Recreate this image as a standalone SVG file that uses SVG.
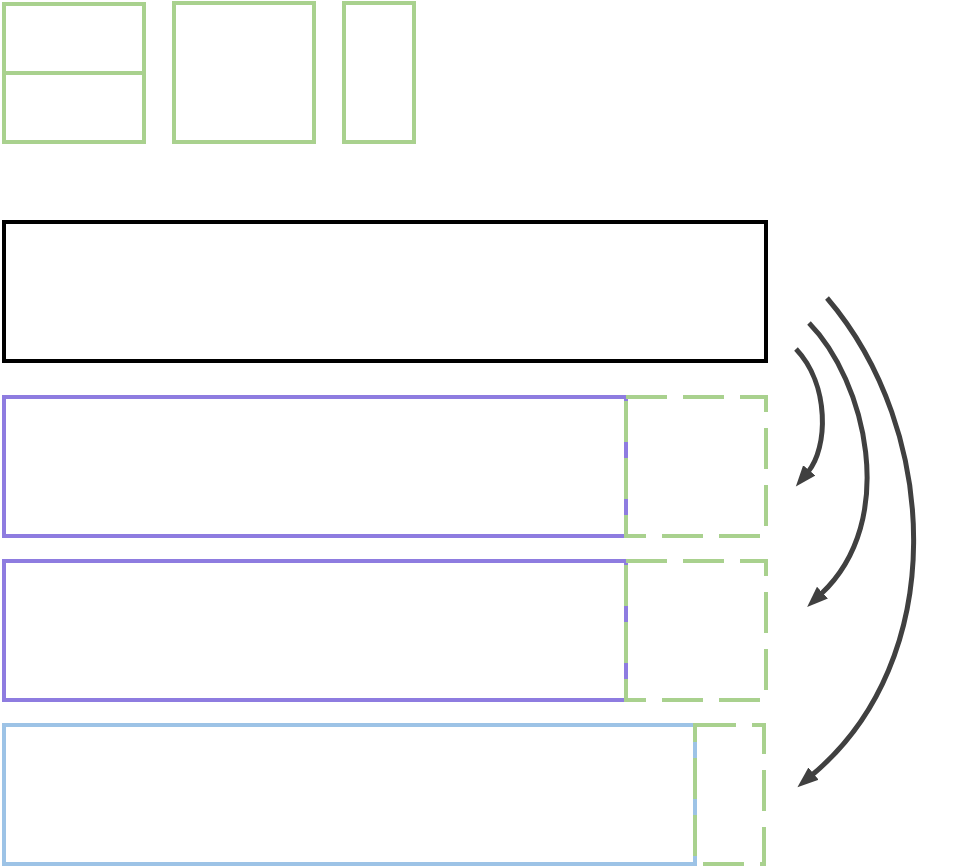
<svg xmlns="http://www.w3.org/2000/svg" width="956" height="867" viewBox="0 0 956 867">
<style>
.g{fill:none;stroke:#A9D18E;stroke-width:4}
.gd{fill:none;stroke:#A9D18E;stroke-width:4;stroke-dasharray:41 16}
.p{fill:none;stroke:#8E7CE0;stroke-width:4}
.b{fill:none;stroke:#9DC3E6;stroke-width:4}
.k{fill:none;stroke:#000;stroke-width:4}
.a{fill:none;stroke:#404040;stroke-width:5;marker-end:url(#ah)}
</style>
<defs>
<marker id="ah" markerUnits="userSpaceOnUse" markerWidth="24" markerHeight="24" viewBox="0 0 24 24" refX="2" refY="12" orient="auto">
<path d="M0,4 L21,12 L0,20 Z" fill="#404040"/>
</marker>
</defs>
<rect width="956" height="867" fill="#fff"/>
<g id="box-split"><rect class="g" x="4" y="4" width="140" height="138"/><line class="g" x1="4" y1="73" x2="144" y2="73"/></g>
<g id="box-square"><rect class="g" x="174" y="3" width="140" height="139"/></g>
<g id="box-narrow"><rect class="g" x="344" y="3" width="70" height="139"/></g>
<g id="bar-black"><rect class="k" x="4" y="222" width="762" height="139"/></g>
<g id="bar-purple-1"><rect class="p" x="4" y="397" width="622" height="139"/><path class="gd" d="M626,397 H766 V536 H626 Z"/></g>
<g id="bar-purple-2"><rect class="p" x="4" y="561" width="622" height="139"/><path class="gd" d="M626,561 H766 V700 H626 Z"/></g>
<g id="bar-blue"><rect class="b" x="4" y="725" width="691" height="139"/><path class="gd" d="M695,725 H764 V864 H695 Z"/></g>
<g id="connectors">
<path class="a" d="M796,349 C830,385 828,448 808,472"/>
<path class="a" d="M809,323 C865,380 900,520 821,594"/>
<path class="a" d="M827,298 C940,430 950,660 812,775"/>
</g>
</svg>
